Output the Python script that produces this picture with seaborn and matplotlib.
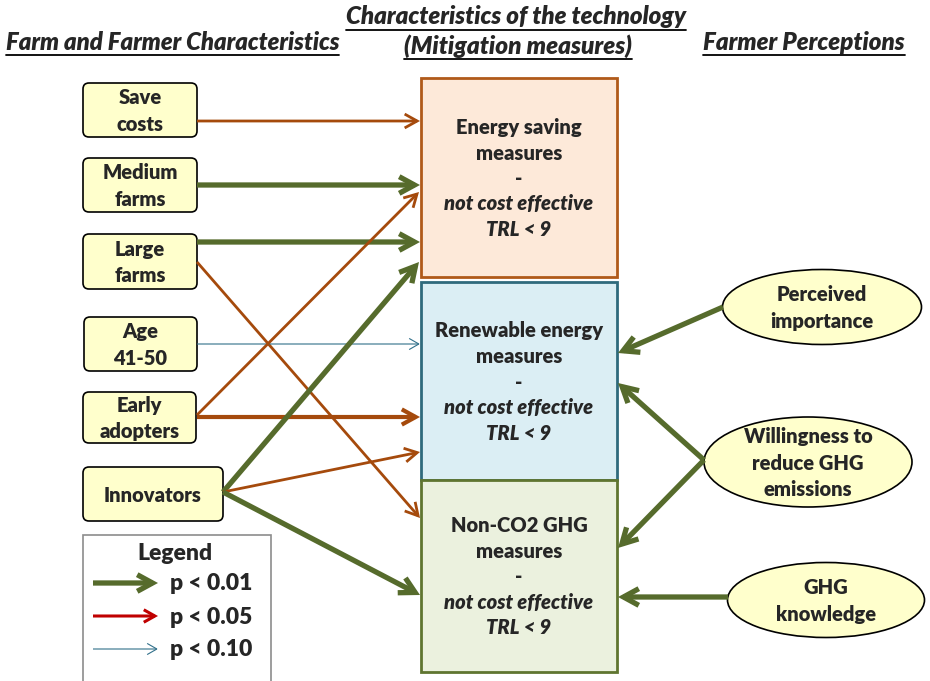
import matplotlib
matplotlib.use("Agg")
import matplotlib.pyplot as plt
import seaborn as sns
from matplotlib.patches import FancyBboxPatch, Rectangle, Ellipse, FancyArrowPatch
from matplotlib.lines import Line2D

sns.set_theme(style="white")
plt.rcParams['font.family'] = ['Lato', 'DejaVu Sans']

# ---------------- data ----------------
headers = ["Farm and Farmer Characteristics",
           "Characteristics of the technology",
           "(Mitigation measures)",
           "Farmer Perceptions"]
farm_nodes = ["Save\ncosts", "Medium\nfarms", "Large\nfarms", "Age\n41-50", "Early\nadopters", "Innovators"]
tech_nodes = ["Energy saving\nmeasures", "Renewable energy\nmeasures", "Non-CO2 GHG\nmeasures"]
tech_sub = ["-", "not cost effective", "TRL < 9"]
perc_nodes = ["Perceived\nimportance", "Willingness to\nreduce GHG\nemissions", "GHG\nknowledge"]
# edges: (source, target, significance)
farm_edges = [
    ("Save\ncosts", "Energy saving\nmeasures", 0.05),
    ("Medium\nfarms", "Energy saving\nmeasures", 0.01),
    ("Large\nfarms", "Energy saving\nmeasures", 0.01),
    ("Large\nfarms", "Non-CO2 GHG\nmeasures", 0.05),
    ("Age\n41-50", "Renewable energy\nmeasures", 0.10),
    ("Early\nadopters", "Energy saving\nmeasures", 0.05),
    ("Early\nadopters", "Renewable energy\nmeasures", 0.05),
    ("Innovators", "Energy saving\nmeasures", 0.01),
    ("Innovators", "Renewable energy\nmeasures", 0.05),
    ("Innovators", "Non-CO2 GHG\nmeasures", 0.01),
]
perc_edges = [
    ("Perceived\nimportance", "Renewable energy\nmeasures", 0.01),
    ("Willingness to\nreduce GHG\nemissions", "Renewable energy\nmeasures", 0.01),
    ("Willingness to\nreduce GHG\nemissions", "Non-CO2 GHG\nmeasures", 0.01),
    ("GHG\nknowledge", "Non-CO2 GHG\nmeasures", 0.01),
]
legend_labels = ["p < 0.01", "p < 0.05", "p < 0.10"]

# ---------------- layout (pixels) ----------------
W, H = 930, 681
fig = plt.figure(figsize=(W / 100, H / 100), dpi=100)
ax = fig.add_axes([0, 0, 1, 1])
ax.set_xlim(0, W)
ax.set_ylim(H, 0)
ax.axis("off")

GREEN = "#566b2c"
BROWN = "#a54a0c"
RED = "#c00000"
BLUE = "#31708a"
YELLOW = "#ffffcc"
FS = 14.5
WEIGHT = "heavy"

# left boxes: (x0, y0, x1, y1)
farm_box = {
    "Save\ncosts": (83, 83, 197, 137),
    "Medium\nfarms": (83, 158, 197, 212),
    "Large\nfarms": (83, 234, 197, 289),
    "Age\n41-50": (84, 317, 197, 371),
    "Early\nadopters": (83, 392, 196, 443),
    "Innovators": (83, 467, 223, 521),
}
for name in farm_nodes:
    x0, y0, x1, y1 = farm_box[name]
    ax.add_patch(FancyBboxPatch((x0 + 6, y0 + 6), x1 - x0 - 12, y1 - y0 - 12,
                                boxstyle="round,pad=6", fc=YELLOW, ec="black", lw=1.2, zorder=3))
    ax.text((x0 + x1) / 2, (y0 + y1) / 2 + 1, name, ha="center", va="center",
            fontsize=FS, fontweight=WEIGHT, linespacing=1.47, zorder=4)

tech_box = {
    "Energy saving\nmeasures": (421, 78, 617, 277, "#fde9d9", "#b05a1a"),
    "Renewable energy\nmeasures": (421, 282, 617, 480, "#dbeef4", "#2f6a7c"),
    "Non-CO2 GHG\nmeasures": (421, 480, 617, 672, "#ebf1de", "#5f7530"),
}
for name in tech_nodes:
    x0, y0, x1, y1, fc, ec = tech_box[name]
    ax.add_patch(Rectangle((x0, y0), x1 - x0, y1 - y0, fc=fc, ec=ec, lw=2, zorder=2))
    cx, cy = (x0 + x1) / 2, (y0 + y1) / 2 + 1
    lines = name.split("\n") + tech_sub
    for k, ln in enumerate(lines):
        italic = k >= 3
        ax.text(cx, cy + (k - 2) * 25.5, ln, ha="center", va="center", fontsize=FS,
                fontweight=WEIGHT, style="italic" if italic else "normal", zorder=4)

perc_ell = {
    "Perceived\nimportance": (822, 307, 199, 75),
    "Willingness to\nreduce GHG\nemissions": (808, 462, 208, 90),
    "GHG\nknowledge": (826, 600, 197, 75),
}
for name in perc_nodes:
    cx, cy, w, h = perc_ell[name]
    ax.add_patch(Ellipse((cx, cy), w, h, fc=YELLOW, ec="black", lw=1.2, zorder=3))
    ax.text(cx, cy + 1, name, ha="center", va="center", fontsize=FS,
            fontweight=WEIGHT, linespacing=1.45, zorder=4)

# arrow endpoints (pixels)
farm_edge_pts = [
    ((197, 121), (420, 121)),
    ((197, 185), (420, 185)),
    ((197, 242), (420, 242)),
    ((197, 262), (420, 518)),
    ((197, 344), (420, 344)),
    ((197, 415), (419, 192)),
    ((197, 417), (420, 417)),
    ((223, 492), (419, 262)),
    ((223, 492), (420, 452)),
    ((223, 492), (420, 595)),
]
perc_edge_pts = [
    ((723, 307), (618, 353)),
    ((704, 460), (618, 383)),
    ((704, 460), (618, 548)),
    ((728, 597), (618, 597)),
]

def style_for(p, thick=False):
    if p <= 0.01:
        return GREEN, 3.8, 11, 6
    if p <= 0.05:
        if thick:
            return BROWN, 3.0, 10, 5.5
        return BROWN, 2.0, 9, 5
    return BLUE, 0.8, 7, 4

def draw_arrow(p0, p1, color, lw, hl, hw, z=5):
    arr = FancyArrowPatch(p0, p1, arrowstyle=f"->,head_length={hl},head_width={hw}",
                          color=color, lw=lw, shrinkA=0, shrinkB=0,
                          mutation_scale=1, capstyle="butt", joinstyle="miter", zorder=z)
    ax.add_patch(arr)

for (src, tgt, p), (p0, p1) in zip(farm_edges, farm_edge_pts):
    thick = (src == "Early\nadopters" and tgt.startswith("Renewable"))
    c, lw, hl, hw = style_for(p, thick)
    draw_arrow(p0, p1, c, lw, hl, hw)
for (src, tgt, p), (p0, p1) in zip(perc_edges, perc_edge_pts):
    c, lw, hl, hw = style_for(p)
    draw_arrow(p0, p1, c, lw, hl, hw)

# legend box
ax.add_patch(Rectangle((83, 535), 188, 160, fc="white", ec="#8c8c8c", lw=1.2, zorder=2))
ax.text(175, 554, "Legend", ha="center", va="center", fontsize=16.5, fontweight=WEIGHT, zorder=4)
leg_styles = [(GREEN, 3.8, 11, 6), (RED, 2.2, 8, 4.5), (BLUE, 0.8, 7, 4)]
for i, (lab, (c, lw, hl, hw)) in enumerate(zip(legend_labels, leg_styles)):
    y = 583 + i * 33
    draw_arrow((93, y), (158, y), c, lw, hl, hw)
    ax.text(170, y + 1, lab, ha="left", va="center", fontsize=16.5, fontweight=WEIGHT, zorder=4)

# headers (bold italic, underlined), sized to the reference widths
hdr_specs = [
    (5, 340, 42, headers[0]),
    (346, 686, 17, headers[1]),
    (404, 632, 46, headers[2]),
    (703, 905, 42, headers[3]),
]
hdr_texts = []
fig.canvas.draw()
renderer = fig.canvas.get_renderer()
for xa, xb, y, s in hdr_specs:
    t = ax.text((xa + xb) / 2, y, s, ha="center", va="center", fontsize=16,
                fontweight=WEIGHT, style="italic", zorder=4)
    bb = t.get_window_extent(renderer)
    t.set_fontsize(16 * (xb - xa) / bb.width)
    hdr_texts.append(t)

fig.canvas.draw()
renderer = fig.canvas.get_renderer()
inv = ax.transData.inverted()
for t in hdr_texts:
    bb = t.get_window_extent(renderer)
    (xa, ya), (xb, yb) = inv.transform([(bb.x0, bb.y0), (bb.x1, bb.y1)])
    ybase = max(ya, yb) + 1
    ax.add_line(Line2D([min(xa, xb), max(xa, xb)], [ybase, ybase], color="black", lw=1.3, zorder=4))

fig.savefig("out.png", dpi=100)
